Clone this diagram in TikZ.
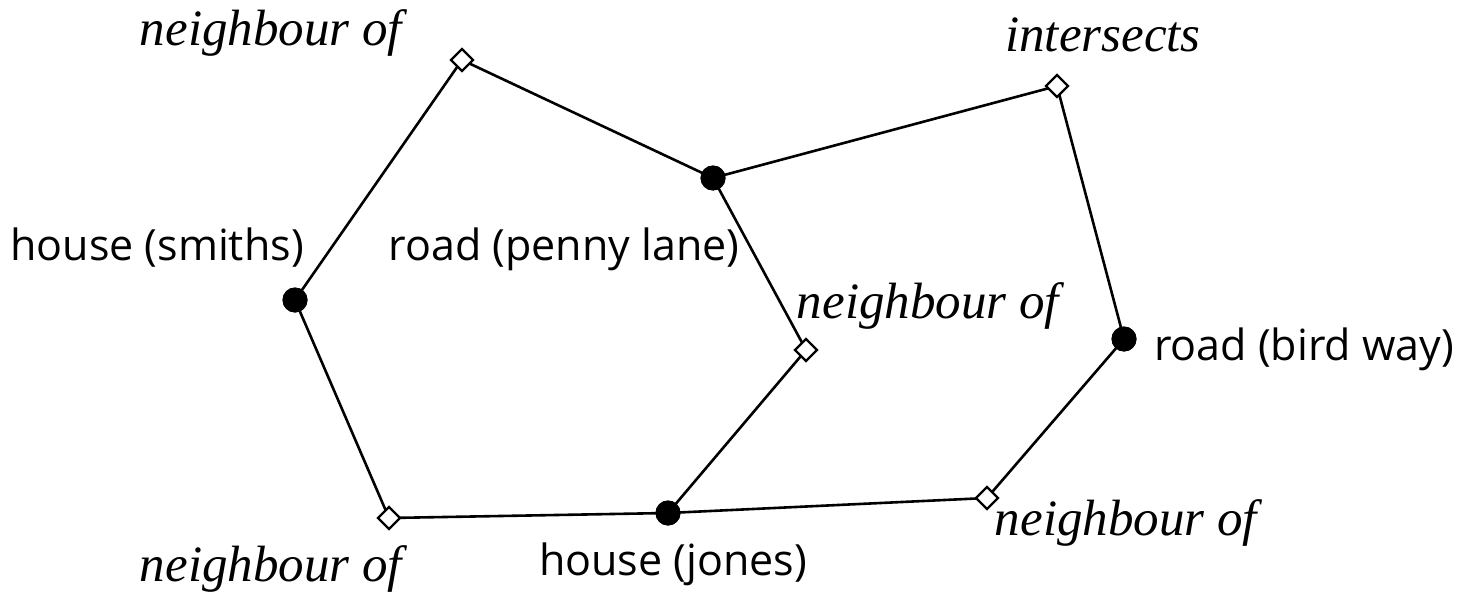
\documentclass[tikz,border=0pt]{standalone}
\usepackage{fontspec}
\setmainfont{Liberation Serif}
\newfontfamily\labelsans{Open Sans}
\usetikzlibrary{shapes.geometric}
\begin{document}
\begin{tikzpicture}[x=1pt,y=-1pt,
  ent/.style={circle,fill=black,inner sep=0pt,minimum size=25pt},
  rel/.style={diamond,draw=black,fill=white,line width=2.4pt,inner sep=0pt,minimum size=23pt},
  edge/.style={line width=2.6pt},
  rtxt/.style={font=\fontsize{51}{56}\selectfont\itshape,inner sep=0pt,anchor=base},
  etxt/.style={font=\labelsans\fontsize{43}{48}\selectfont,inner sep=0pt,anchor=base}]
\useasboundingbox (0,0) rectangle (1468,594);
\node[ent] (S) at (295,300) {};
\node[ent] (P) at (713,178) {};
\node[ent] (B) at (1124,339) {};
\node[ent] (J) at (668,513) {};
\coordinate (N1c) at (462,60);
\coordinate (Ic) at (1057,86);
\coordinate (N2c) at (806,350);
\coordinate (N3c) at (389,518);
\coordinate (N4c) at (987,498);
\draw[edge] (S.center) -- (N1c) -- (P.center) -- (Ic) -- (B.center) -- (N4c) -- (J.center) -- (N3c) -- (S.center);
\draw[edge] (P.center) -- (N2c) -- (J.center);
\node[rel] (N1) at (N1c) {};
\node[rel] (I) at (Ic) {};
\node[rel] (N2) at (N2c) {};
\node[rel] (N3) at (N3c) {};
\node[rel] (N4) at (N4c) {};
\node[ent] at (S) {};
\node[ent] at (P) {};
\node[ent] at (B) {};
\node[ent] at (J) {};
\node[rtxt] (tN1) at (271,46) {neighbour of};
\node[rtxt] (tI) at (1103,52) {intersects};
\node[rtxt] (tN2) at (928,318) {neighbour of};
\node[rtxt] (tN3) at (271,581) {neighbour of};
\node[rtxt] (tN4) at (1126,535) {neighbour of};
\node[etxt] (tS) at (157,260) {house (smiths)};
\node[etxt] (tP) at (564,260) {road (penny lane)};
\node[etxt] (tB) at (1304,360) {road (bird way)};
\node[etxt] (tJ) at (673,575) {house (jones)};
\end{tikzpicture}
\end{document}
